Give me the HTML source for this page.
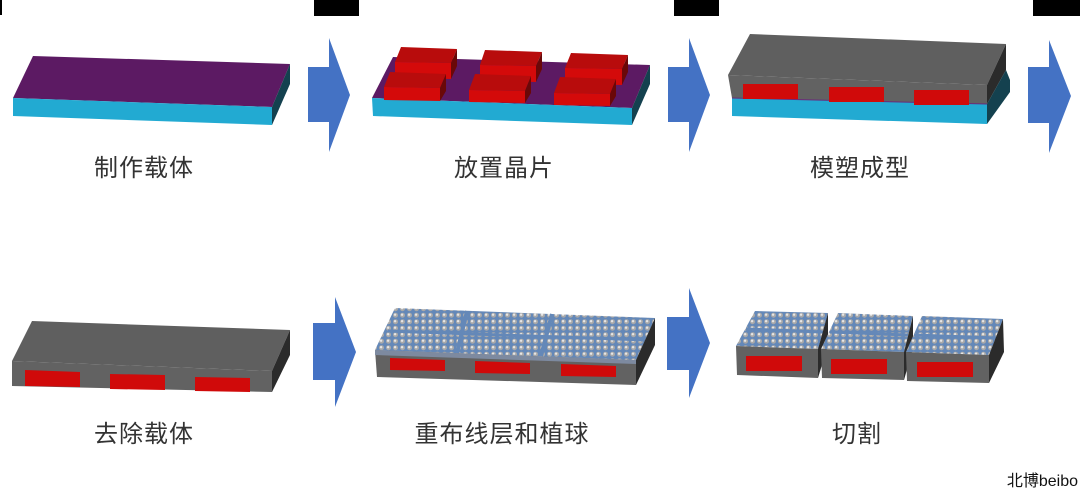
<!DOCTYPE html>
<html><head><meta charset="utf-8"><style>
html,body{margin:0;padding:0;background:#fff;}
svg{display:block;}
text{font-family:"Liberation Sans","Noto Sans CJK SC",sans-serif;}
</style></head><body>
<svg width="1080" height="490" viewBox="0 0 1080 490" xmlns="http://www.w3.org/2000/svg">
<defs>
<pattern id="dots" width="7" height="6.5" patternUnits="userSpaceOnUse">
<rect width="7" height="6.5" fill="#6488b8"/>
<circle cx="3.5" cy="3.2" r="2.5" fill="#a9a9a9"/>
<circle cx="3.1" cy="2.7" r="1.2" fill="#e6e6e6"/>
</pattern>
</defs>
<rect width="1080" height="490" fill="#fff"/>
<rect x="0" y="0" width="2" height="15" fill="#000"/>
<rect x="314" y="0" width="45" height="16" fill="#000"/>
<rect x="674" y="0" width="45" height="16" fill="#000"/>
<rect x="1033" y="0" width="47" height="16" fill="#000"/>

<g fill="#4472c4">
<polygon points="308,67 329,67 329,38 350,95 329,152 329,122 308,122"/>
<polygon points="668,67 689,67 689,38 710,95 689,152 689,122 668,122"/>
<polygon points="1028,67 1049,67 1049,40 1071,96 1049,153 1049,123 1028,123"/>
<polygon points="313,323 335,323 335,297 356,352 335,407 335,380 313,380"/>
<polygon points="667,317 689,317 689,288 710,343 689,398 689,370 667,370"/>
</g>

<polygon points="33,56 290,64 272,107 13,98" fill="#5c1a63"/>
<polygon points="13,98 272,107 272,125 13,116" fill="#22aad2"/>
<polygon points="290,64 290,84 272,125 272,107" fill="#14414f"/>

<polygon points="393,57 650,65 632,108 372,98" fill="#5c1a63"/>
<polygon points="372,98 632,108 632,125 373,116" fill="#22aad2"/>
<polygon points="650,65 650,84 632,125 632,108" fill="#14414f"/>
<g>
<polygon points="401,47 457,49 451,63 395,62" fill="#b80c0c"/><polygon points="395,62 451,63 451,79 395,78" fill="#d40a0a"/><polygon points="457,49 457,66 451,79 451,63" fill="#6a0808"/>
<polygon points="485,50 542,52 536,66 480,65" fill="#b80c0c"/><polygon points="480,65 536,66 536,82 480,81" fill="#d40a0a"/><polygon points="542,52 542,69 536,82 536,66" fill="#6a0808"/>
<polygon points="571,53 628,55 622,69 565,68" fill="#b80c0c"/><polygon points="565,68 622,69 622,85 565,84" fill="#d40a0a"/><polygon points="628,55 628,72 622,85 622,69" fill="#6a0808"/>
<polygon points="390,72 446,74 440,88 384,87" fill="#b80c0c"/><polygon points="384,87 440,88 440,101 384,100" fill="#d40a0a"/><polygon points="446,74 446,91 440,101 440,88" fill="#6a0808"/>
<polygon points="475,74 531,76 525,91 469,90" fill="#b80c0c"/><polygon points="469,90 525,91 525,103 469,102" fill="#d40a0a"/><polygon points="531,76 531,93 525,103 525,91" fill="#6a0808"/>
<polygon points="560,77 616,79 610,94 554,93" fill="#b80c0c"/><polygon points="554,93 610,94 610,106 554,105" fill="#d40a0a"/><polygon points="616,79 616,96 610,106 610,94" fill="#6a0808"/>
</g>

<polygon points="750,34 1006,44 987,85 728,75" fill="#5f5f5f"/>
<polygon points="728,75 987,85 987,104 732,98" fill="#626262"/>
<polygon points="732,98 987,104 987,124 732,116" fill="#22aad2"/>
<polygon points="1006,44 1006,70 987,104 987,85" fill="#2b2b2b"/>
<polygon points="1006,70 1010,80 1010,92 987,124 987,104" fill="#14414f"/>
<line x1="732" y1="98" x2="987" y2="104" stroke="#6a2a7a" stroke-width="1"/>
<rect x="743" y="84" width="55" height="15" fill="#d00a0a"/>
<rect x="829" y="87" width="55" height="15" fill="#d00a0a"/>
<rect x="914" y="90" width="55" height="15" fill="#d00a0a"/>

<polygon points="32,321 290,330 272,371 12,361" fill="#5f5f5f"/>
<polygon points="12,361 272,371 272,392 12,386" fill="#626262"/>
<polygon points="290,330 290,355 272,392 272,371" fill="#2b2b2b"/>
<polygon points="25,370 80,372 80,387 25,386" fill="#d00a0a"/>
<polygon points="110,374 165,375 165,390 110,389" fill="#d00a0a"/>
<polygon points="195,377 250,378 250,392 195,391" fill="#d00a0a"/>

<polygon points="395,308 655,318 636,360 375,350" fill="url(#dots)"/>
<line x1="467" y1="311" x2="457" y2="353" stroke="#6488b8" stroke-width="4"/>
<line x1="552" y1="314" x2="541" y2="356" stroke="#6488b8" stroke-width="4"/>
<line x1="388" y1="331" x2="645" y2="340" stroke="#6488b8" stroke-width="3"/>
<polygon points="375,350 636,360 636,385 377,377" fill="#626262"/>
<polygon points="375,350 636,360 636,364 375,355" fill="#7d8aa0"/>
<polygon points="655,318 655,345 636,385 636,360" fill="#2b2b2b"/>
<polygon points="390,358 445,360 445,371 390,370" fill="#d00a0a"/>
<polygon points="475,361 530,363 530,374 475,373" fill="#d00a0a"/>
<polygon points="561,364 616,366 616,377 561,376" fill="#d00a0a"/>

<g>
<polygon points="755,311 828,313 818,349 736,346" fill="url(#dots)"/>
<line x1="746" y1="329" x2="823" y2="332" stroke="#6488b8" stroke-width="3"/>
<polygon points="736,346 818,349 818,378 737,375" fill="#626262"/>
<polygon points="828,313 828,345 818,378 818,349" fill="#2b2b2b"/>
<rect x="746" y="356" width="56" height="15" fill="#d00a0a"/>

<polygon points="838,313 913,316 904,352 821,349" fill="url(#dots)"/>
<line x1="830" y1="332" x2="908" y2="335" stroke="#6488b8" stroke-width="3"/>
<polygon points="821,349 904,352 904,380 822,378" fill="#626262"/>
<polygon points="913,316 913,348 904,380 904,352" fill="#2b2b2b"/>
<rect x="831" y="359" width="56" height="15" fill="#d00a0a"/>

<polygon points="922,316 1003,319 989,355 906,352" fill="url(#dots)"/>
<line x1="914" y1="335" x2="996" y2="338" stroke="#6488b8" stroke-width="3"/>
<polygon points="906,352 989,355 989,383 907,381" fill="#626262"/>
<polygon points="1003,319 1004,352 989,383 989,355" fill="#2b2b2b"/>
<rect x="917" y="362" width="56" height="15" fill="#d00a0a"/>
</g>

<g font-size="24" fill="#333" text-anchor="middle" letter-spacing="1">
<text x="144" y="176">制作载体</text>
<text x="504" y="176">放置晶片</text>
<text x="860" y="176">模塑成型</text>
<text x="144" y="442">去除载体</text>
<text x="502" y="442">重布线层和植球</text>
<text x="857" y="442">切割</text>
</g>
<text x="1078" y="486" font-size="16" fill="#111" text-anchor="end">北博beibo</text>
</svg>
</body></html>
